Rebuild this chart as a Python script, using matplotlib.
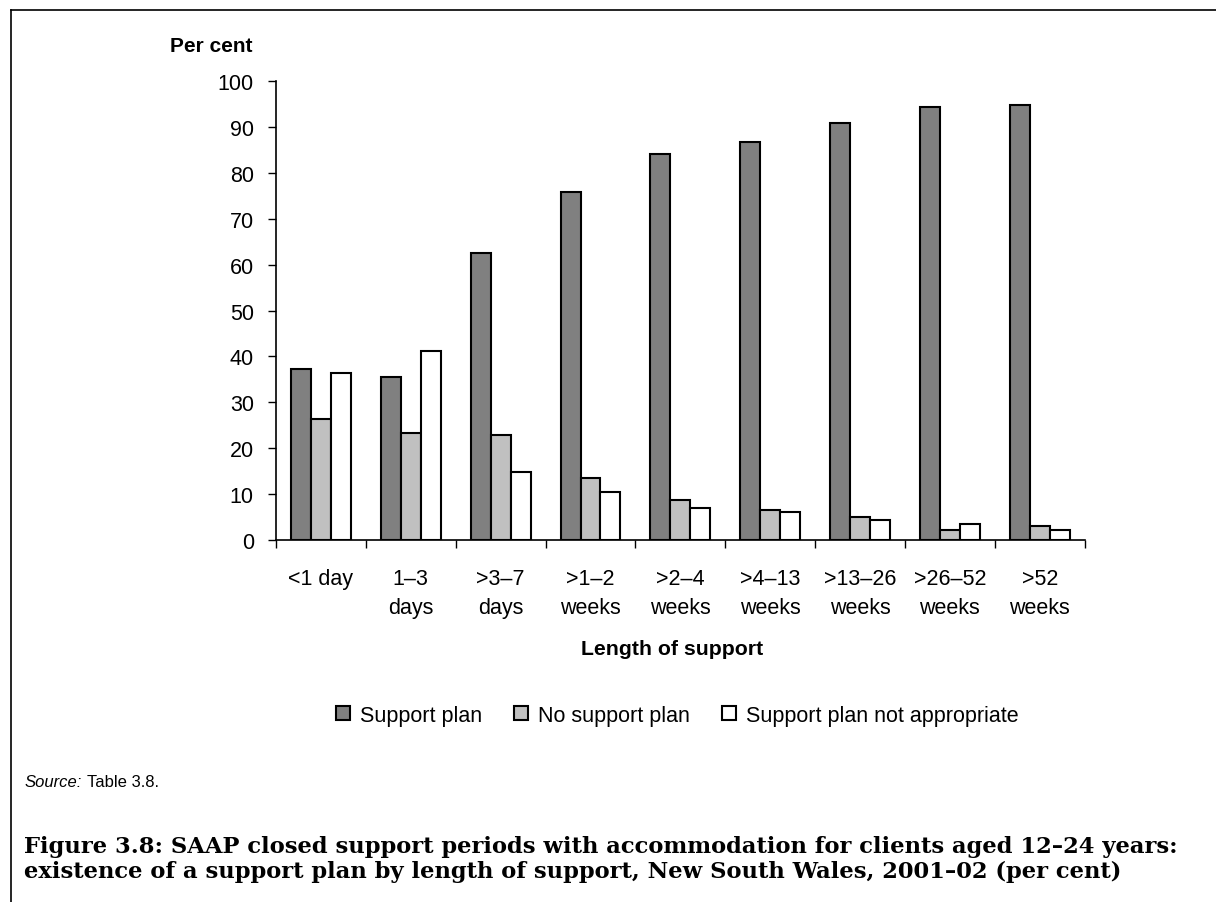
import numpy as np
import matplotlib.pyplot as plt
from matplotlib.lines import Line2D

categories = ["<1 day", "1\u20133\ndays", ">3\u20137\ndays", ">1\u20132\nweeks", ">2\u20134\nweeks",
              ">4\u201313\nweeks", ">13\u201326\nweeks", ">26\u201352\nweeks", ">52\nweeks"]
support_plan = [37.3, 35.6, 62.6, 75.9, 84.2, 86.8, 90.9, 94.3, 94.7]
no_support_plan = [26.4, 23.3, 22.8, 13.6, 8.8, 6.5, 4.9, 2.1, 3.1]
not_appropriate = [36.4, 41.2, 14.9, 10.5, 7.0, 6.1, 4.4, 3.4, 2.2]
series_names = ["Support plan", "No support plan", "Support plan not appropriate"]
colors = ["#808080", "#c0c0c0", "#ffffff"]

plt.rcParams['font.family'] = ['Liberation Sans', 'DejaVu Sans']

fig = plt.figure(figsize=(12.16, 9.03), dpi=100)
ax = fig.add_axes([0.227, 0.401, 0.665, 0.508])

x = np.arange(len(categories))
w = 0.222
handles = []
for k, vals in enumerate([support_plan, no_support_plan, not_appropriate]):
    b = ax.bar(x + (k - 1) * w, vals, w, color=colors[k], edgecolor="black",
               linewidth=1.5, label=series_names[k])
    handles.append(b)

ax.set_xlim(-0.5, len(categories) - 0.5)
ax.set_ylim(0, 100)
ax.set_yticks(range(0, 101, 10))
ax.set_xticks(np.arange(-0.5, len(categories), 1.0))
ax.set_xticklabels([])
ax.set_xticks(x, minor=True)
ax.set_xticklabels(categories, minor=True, fontsize=15.5, linespacing=1.5)
ax.tick_params(axis="x", which="minor", length=0, pad=20)
ax.tick_params(axis="x", which="major", length=6, width=1, direction="out")
ax.tick_params(axis="y", length=6, width=1, labelsize=15.5, pad=10)
ax.spines["top"].set_visible(False)
ax.spines["right"].set_visible(False)
ax.spines["left"].set_linewidth(1.2)
ax.spines["bottom"].set_linewidth(1.2)

fig.text(0.140, 0.949, "Per cent", fontsize=15, fontweight="bold", ha="left", va="center")
fig.text(0.553, 0.281, "Length of support", fontsize=15.3, fontweight="bold", ha="center", va="center")

fig.legend(handles=handles, loc="center", bbox_to_anchor=(0.557, 0.207), ncol=3,
           frameon=False, fontsize=15.5, handlelength=0.65, handleheight=0.65,
           handletextpad=0.45, columnspacing=1.5)

src = fig.text(0.02, 0.133, "Source:", fontsize=12, style="italic", ha="left", va="center")
fig.canvas.draw()
bb = src.get_window_extent().transformed(fig.transFigure.inverted())
fig.text(bb.x1 + 0.004, 0.133, "Table 3.8.", fontsize=12, ha="left", va="center")

fig.text(0.02, 0.048,
         "Figure 3.8: SAAP closed support periods with accommodation for clients aged 12\u201324 years:\n"
         "existence of a support plan by length of support, New South Wales, 2001\u201302 (per cent)",
         fontsize=16.3, fontweight="bold", family="DejaVu Serif", ha="left", va="center",
         linespacing=1.2)

fig.add_artist(Line2D([0.009, 1.0], [0.988, 0.988], color="black", lw=1.2))
fig.add_artist(Line2D([0.009, 0.009], [0.0, 0.988], color="black", lw=1.2))

fig.savefig("out.png", dpi=100)
